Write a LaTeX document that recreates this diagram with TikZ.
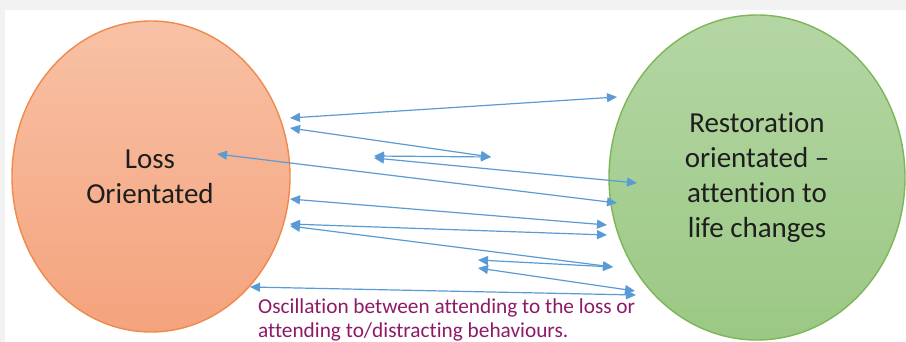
\documentclass[tikz,border=0pt]{standalone}
\usepackage{fontspec}
\setmainfont{Carlito}[Ligatures=NoCommon]
\usetikzlibrary{shapes.geometric,arrows.meta}
\definecolor{bggray}{HTML}{F2F2F2}
\definecolor{losstop}{HTML}{F8C1A5}
\definecolor{lossbot}{HTML}{F4A37D}
\definecolor{lossline}{HTML}{F08A4B}
\definecolor{resttop}{HTML}{B4D6A4}
\definecolor{restbot}{HTML}{9BC884}
\definecolor{restline}{HTML}{7CB657}
\definecolor{arrowblue}{HTML}{5B9BD5}
\definecolor{notepurple}{HTML}{8E1A68}
\definecolor{maintext}{HTML}{1E1E1E}
\tikzset{
  blob/.style={ellipse, inner sep=0pt, line width=1.4pt},
  bigtext/.style={align=center, text=maintext, font=\fontsize{29}{35}\selectfont, inner sep=0pt},
  notetext/.style={anchor=base west, text=notepurple, font=\fontsize{21.3}{25}\selectfont, inner sep=0pt},
  conn/.style={draw=arrowblue, line width=1.2pt, {Triangle[length=10pt,width=9pt]}-{Triangle[length=10pt,width=9pt]}}
}
\begin{document}
\begin{tikzpicture}[x=1pt,y=-1pt]
\fill[bggray] (0,0) rectangle (906,342);
\fill[white] (5,10) rectangle (906,342);
\useasboundingbox (0,0) rectangle (906,342);
\node[blob, draw=lossline, top color=losstop, bottom color=lossbot,
      minimum width=278pt, minimum height=311pt] (loss) at (151,176.5) {};
\node[blob, draw=restline, top color=resttop, bottom color=restbot,
      minimum width=296pt, minimum height=325pt] (rest) at (757,177.5) {};
\node[bigtext] (losslabel) at (150,177) {Loss\\Orientated};
\node[bigtext] (restlabel) at (757,178) {Restoration\\orientated –\\attention to\\life changes};
\node[notetext] (note1) at (258,313) {Oscillation between attending to the loss or};
\node[notetext] (note2) at (258,337) {attending to/distracting behaviours.};
% arrow end points
\coordinate (p1) at (290,118);  \coordinate (q1) at (617,97);
\coordinate (p2) at (290,128);  \coordinate (q2) at (491,157);
\coordinate (p3) at (374,156);
\coordinate (p4) at (374,158);  \coordinate (q4) at (637,183);
\coordinate (p5) at (217,154);  \coordinate (q5) at (617,203);
\coordinate (p6) at (290,199);  \coordinate (q6) at (607,225);
\coordinate (p7) at (290,224);  \coordinate (q7) at (607,235);
\coordinate (p8) at (290,226);  \coordinate (q8) at (613,267);
\coordinate (p9) at (478,260);
\coordinate (p10) at (478,268); \coordinate (q10) at (635,291);
\coordinate (p11) at (250,287); \coordinate (q11) at (636,295);
\draw[conn] (p1) -- (q1);
\draw[conn] (p2) -- (q2);
\draw[conn] (p3) -- (q2);
\draw[conn] (p4) -- (q4);
\draw[conn] (p5) -- (q5);
\draw[conn] (p6) -- (q6);
\draw[conn] (p7) -- (q7);
\draw[conn] (p8) -- (q8);
\draw[conn] (p9) -- (q8);
\draw[conn] (p10) -- (q10);
\draw[conn] (p11) -- (q11);
\end{tikzpicture}
\end{document}
